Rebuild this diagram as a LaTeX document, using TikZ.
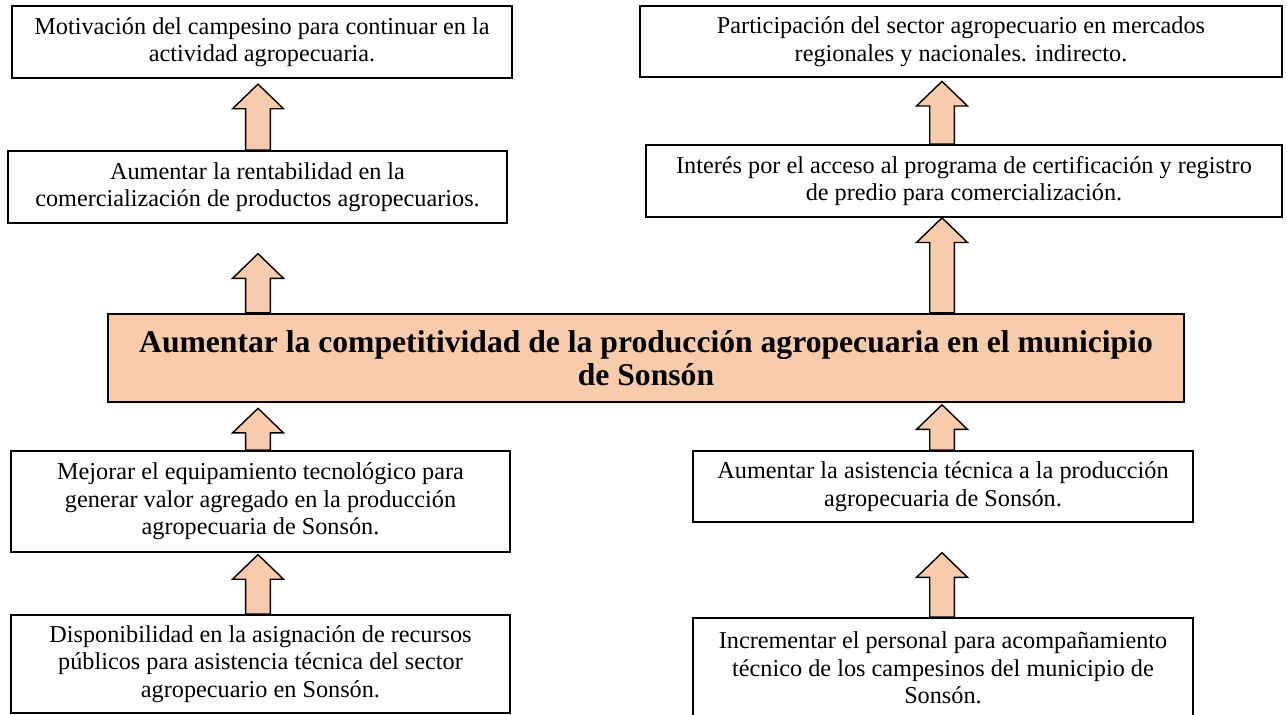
\documentclass[tikz,border=0pt]{standalone}
\usepackage{fontspec}
\setmainfont{Liberation Serif}
\usetikzlibrary{calc}
\definecolor{durazno}{HTML}{F8CBAD}

% flecha de bloque hacia arriba: [separacion]{base}{punta}
\newcommand{\flechaarriba}[3][0pt]{%
  \filldraw[flecha] let \p1=(#2), \p2=(#3) in
    (\x1-7pt,\y1) -- (\x1-7pt,\y2-#1-14pt) -- (\x1-14.5pt,\y2-#1-14pt) -- (\x1,\y2-#1)
    -- (\x1+14.5pt,\y2-#1-14pt) -- (\x1+7pt,\y2-#1-14pt) -- (\x1+7pt,\y1) -- cycle;}

\begin{document}
\begin{tikzpicture}[
    caja/.style={rectangle, draw, line width=1pt, inner sep=0pt, align=center,
        font=\fontsize{13.8pt}{15.6pt}\selectfont},
    cajacentral/.style={caja, fill=durazno, line width=1.2pt,
        font=\fontsize{18pt}{18.6pt}\selectfont\bfseries},
    flecha/.style={fill=durazno, draw, line width=0.8pt, line join=miter}
]
    \useasboundingbox (0,0) rectangle (25.74,-14.3);
    \coordinate (colL) at (5.16,0);
    \coordinate (colR) at (18.84,0);

    \node[caja, minimum width=10cm, minimum height=1.44cm] (motivacion) at (5.24,-0.84)
        {Motivación del campesino para continuar en la\\actividad agropecuaria.};
    \node[caja, minimum width=9.98cm, minimum height=1.44cm] (rentabilidad) at (5.15,-3.74)
        {Aumentar la rentabilidad en la\\comercialización de productos agropecuarios.};
    \node[caja, minimum width=12.84cm, minimum height=1.42cm] (participacion) at (19.22,-0.83)
        {Participación del sector agropecuario en mercados\\regionales y nacionales. indirecto.};
    \node[caja, minimum width=12.72cm, minimum height=1.44cm] (interes) at (19.28,-3.62)
        {Interés por el acceso al programa de certificación y registro\\de predio para comercialización.};

    \node[cajacentral, minimum width=21.52cm, minimum height=1.76cm] (competitividad) at (12.92,-7.16)
        {Aumentar la competitividad de la producción agropecuaria en el municipio\\de Sonsón};

    \node[caja, minimum width=9.98cm, minimum height=2.02cm] (equipamiento) at (5.21,-10.03)
        {Mejorar el equipamiento tecnológico para\\generar valor agregado en la producción\\agropecuaria de Sonsón.};
    \node[caja, minimum width=9.98cm, minimum height=1.96cm] (recursos) at (5.21,-13.28)
        {Disponibilidad en la asignación de recursos\\públicos para asistencia técnica del sector\\agropecuario en Sonsón.};
    \node[caja, minimum width=10cm, minimum height=1.42cm] (asistencia) at (18.86,-9.73)
        {Aumentar la asistencia técnica a la producción\\agropecuaria de Sonsón.};
    \node[caja, minimum width=10cm, minimum height=2cm] (personal) at (18.86,-13.36)
        {Incrementar el personal para acompañamiento\\técnico de los campesinos del municipio de\\Sonsón.};

    % columna izquierda
    \flechaarriba[3pt]{rentabilidad.north -| colL}{motivacion.south -| colL}
    \flechaarriba[17pt]{competitividad.north -| colL}{rentabilidad.south -| colL}
    \flechaarriba[3pt]{equipamiento.north -| colL}{competitividad.south -| colL}
    \flechaarriba[1pt]{recursos.north -| colL}{equipamiento.south -| colL}
    % columna derecha
    \flechaarriba[2pt]{interes.north -| colR}{participacion.south -| colR}
    \flechaarriba{competitividad.north -| colR}{interes.south -| colR}
    \flechaarriba[1pt]{asistencia.north -| colR}{competitividad.south -| colR}
    \flechaarriba[17pt]{personal.north -| colR}{asistencia.south -| colR}
\end{tikzpicture}
\end{document}
